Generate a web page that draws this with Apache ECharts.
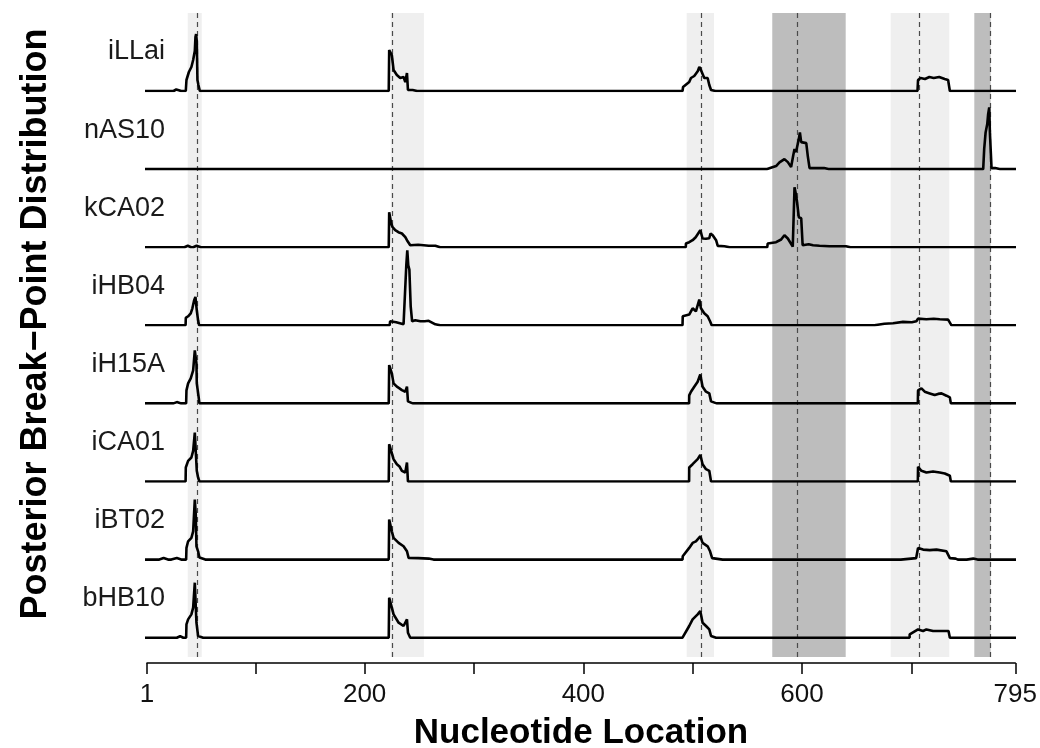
<!DOCTYPE html>
<html><head><meta charset="utf-8">
<script src="https://cdn.jsdelivr.net/npm/echarts@6/dist/echarts.min.js"></script>
<style>html,body{margin:0;padding:0;background:#fff}#c{width:1040px;height:748px}</style>
</head><body><div id="c"></div>
<script>
// ---------------- data ----------------
const trackNames = ['iLLai','nAS10','kCA02','iHB04','iH15A','iCA01','iBT02','bHB10'];

const iLLai = [[1,0],[27,0],[27.5,1.5],[29.5,1.5],[30,0],[34,0],[38.2,0],[38.8,11],[40.3,13],[41,19],[43.3,24],[44.9,31],[46.4,40],[47,54],[47.6,57],[48.2,50],[48.8,11],[49.7,6],[51,0],[54,0],[56.5,0],[57,1.5],[57.5,0],[61,0],
 [218,0],[218.5,1.5],[219.5,0],[223.2,0],[223.6,41],[224.5,40],[226,36],[227.6,21],[229.1,19],[230.6,16],[232.2,14],[233.7,13],[235.2,15],[236.7,14],[238.3,9],[239.8,18],[240.7,1],[245,1],[246,0],[249,0],[253,0],[253.5,1.5],[254,0],[258,0],
 [491,0],[491.5,4],[497.1,9],[498.7,13],[501.7,15],[503.2,16],[505,20],[506.3,24],[507.8,21],[509.3,17],[510.8,13],[512.4,14],[513.9,13],[515.4,6],[517,1],[521,0],[525,0],
 [594,0],[594.5,1],[596,0],[599,0],[615,0],[615.5,1.2],[617,0],[620,0],[632,0],[632.5,1],[634,0],[637,0],[648,0],[648.5,1.2],[651,0],[654,0],[668,0],[668.5,1.2],[671,0],[674,0],[688,0],[688.5,1],[690,0],[693,0],
 [705.2,0],[705.7,11],[708,13],[712,12],[716,14],[720,13],[725,14],[730,12],[733.1,11],[734.7,0],[738,0],[757,0],[757.5,1.2],[760,0],[763,0],[766,0],[766.5,1.2],[768,0],[771,0],[795,0]];

const nAS10 = [[1,0],[25,0],[25.5,1],[26,0],[29,0],[36,0],[36.5,1.5],[38,0],[41,0],
 [568.2,0],[568.7,2],[576.3,3],[579.4,6.7],[581,8],[583.9,10],[587,7],[590,2],[591.5,2],[592,14],[593.1,20],[594.5,17],[596.1,17],[597,30],[598,36.7],[599.2,27],[600.7,27],[603.8,26],[605.2,13],[606.8,1],[620,1],[621,0],[624,0],
 [632,0],[632.5,1],[634,0],[637,0],[652,0],[652.5,1],[655,0],[658,0],[668,0],[668.5,1],[671,0],[674,0],[690,0],[690.5,1],[692,0],[695,0],[718,0],[718.5,1],[720,0],[723,0],[738,0],[738.5,1],[740,0],[743,0],
 [765.1,0],[766,20],[767.3,36.7],[768.8,45],[769.6,55],[770.6,61.7],[771.2,36.7],[772.7,1],[776,1],[777,0],[780,0],[781,0],[781.5,1],[783,0],[786,0],[795,0]];

const kCA02 = [[1,0],[37,0],[37.5,1.5],[40,1.5],[40.5,0],[43,0],[45,0],[45.5,1.5],[48,1.5],[48.5,0],[52,0],
 [223.2,0],[223.6,35],[224.5,33],[225.4,24],[226.7,20],[229.1,17],[232,15],[235.2,13.7],[238.3,10],[239.8,7],[242.8,2],[250,2.5],[255,2],[259.6,1.5],[265.7,1.5],[266,0],[270,0],
 [494,0],[494.1,3.7],[497.1,5],[500.2,7],[503,10],[504.8,12],[507.2,17],[509.3,8.7],[512.4,8.5],[515.4,9],[516.5,13.7],[518.5,12],[521.6,7],[523.1,1.3],[529.2,1],[530,0],[534,0],
 [568.2,0],[568.7,3.7],[576.3,5],[580.9,7.7],[583.9,12],[587,8.7],[591.5,0.5],[592.5,0.5],[593.1,60],[594,55],[595.2,47],[597,30],[599.2,29],[600.5,2],[606,3],[610,2],[615.9,1.5],[625,1],[640,1],[641,0],[644,0],[660,0],[660.5,1.5],[661,0],[664,0],[795,0]];

const iHB04 = [[1,0],[38,0],[38.2,7.4],[40.3,9],[42.7,12],[44.2,17],[45.8,25],[47,28.4],[48.2,15],[49.4,5],[50.3,0],[54,0],
 [224,0],[224.5,4],[230,3],[236.7,1],[238.5,1],[239.2,60],[240.1,75],[241,60],[242,55.7],[243.2,19],[244.5,4],[247.4,5],[252,4],[256,4],[259.6,4.5],[261.1,3],[265.7,1],[266.5,0],[270,0],
 [491,0],[491.2,9],[497.1,10.7],[500.2,17],[503.2,14],[506.3,25.7],[507.8,17],[510.8,12],[513.9,9],[516.1,4],[517.6,0],[521,0],
 [666,0],[666.5,1],[675,1.5],[682.9,2],[692,3.4],[700,3],[704.2,4],[705.7,6.7],[713.3,6],[720,6.5],[725.5,6],[733.1,5.7],[736.2,0],[740,0],[795,0]];

const iH15A = [[1,0],[27,0],[27.5,1.3],[30,1.3],[30.5,0],[34,0],[38.5,0],[38.8,13],[40.3,20],[42.7,25],[44.9,33],[46.4,53],[47.3,55],[47.9,40],[48.2,20],[49.7,8],[50.6,0],[54,0],
 [223.2,0],[223.6,38.3],[226,30],[227.6,20],[230.6,16.7],[233,15],[235.2,13.3],[238.3,11.7],[239.8,16.7],[240.7,2],[241.9,0],[245,0],
 [497,0],[497.1,8],[498.7,11.7],[501.7,16.7],[504.8,21.7],[507.2,29],[509.3,16.7],[512.4,11.7],[515.4,10],[517,2],[518.5,0],[522,0],
 [705.5,0],[705.7,13],[708.8,15],[711.8,11.7],[716.4,10],[720.9,8.3],[724,9.5],[727.1,10],[731.6,7.7],[734.7,6],[735.6,0],[739,0],[795,0]];

const iCA01 = [[1,0],[38,0],[38.2,14],[40.3,20.7],[43.3,24],[44.9,30.7],[46.4,49],[47.3,50.7],[48.2,10.7],[49.4,4],[50.6,0],[54,0],
 [223.2,0],[223.6,37.3],[225.4,30.7],[227.6,22.3],[230.6,17.3],[233,15],[235.2,10.7],[238.3,9],[239.8,19],[240.7,0],[244,0],
 [497,0],[497.1,14],[500.2,17.3],[504.8,22.3],[507.2,26.7],[509.3,17.3],[512.4,12.3],[515.4,10.7],[517,0],[521,0],
 [705.5,0],[705.7,14.7],[708.8,10.7],[713.3,9],[719.4,10],[725.5,9],[730.1,8],[734.7,5.7],[735.6,0],[739,0],[795,0]];

const iBT02 = [[1,0],[14,0],[14.5,1.5],[18,1.5],[18.5,0],[22,0],[25,0],[25.5,1.5],[30,1.5],[30.5,0],[34,0],[38.5,0],[38.8,11.7],[40.3,18.3],[43.3,21.7],[44.9,28.3],[46.4,60],[47.3,45],[47.9,13.3],[49.4,8.3],[50.6,2],[52.4,0],[56,0],
 [223.2,0],[223.6,40],[226,28.3],[227.6,21.7],[232.2,16.7],[236.7,13.3],[239.8,8.3],[241.3,1.7],[250,1.5],[259.6,1],[260,0],[264,0],
 [491,0],[491.2,3.3],[497.1,11.7],[500.2,16.7],[503.2,18.3],[507.2,23.3],[509.3,16.7],[513.9,13.3],[516.1,8.3],[518,1.5],[527.6,0],[531,0],
 [603,0],[603.5,1.2],[606,0],[609,0],[618,0],[618.5,1.2],[622,0],[625,0],[640,0],[640.5,1],[642,0],[645,0],[654,0],[654.5,1.2],[658,0],[661,0],[668,0],[668.5,1.2],[672,0],[675,0],[680,0],[680.5,1.2],[684,0],[687,0],[690,0],[690.5,1.5],[704,1.5],
 [705.5,0],[705.7,11.7],[710.3,10],[716.4,9.5],[722.5,10],[731.6,8.3],[734.7,1.5],[740,1],[742,0],[745,0],[750,0],[750.5,1.5],[756,1],[757,0],[760,0],[795,0]];

const bHB10 = [[1,0],[30,0],[30.5,1.5],[33,1.5],[33.5,0],[36,0],[38.5,0],[38.8,13.3],[40.3,18.3],[43.3,23.3],[44.9,30],[46.4,55],[47.9,15],[49.4,1.7],[50.6,0],[54,0],
 [223.2,0],[223.6,40],[226,30],[227.6,23.3],[232.2,15],[236.7,11.7],[239.8,18.3],[240.7,5],[242.8,0],[246,0],
 [491,0],[491.2,1.7],[497.1,11.7],[500.2,18.3],[504.8,23.3],[507.2,26.7],[509.3,15],[512.4,11.7],[515.4,8.3],[517,1.7],[521.6,0],[525,0],
 [698,0],[698.1,3.3],[705.7,8.3],[710.3,6.7],[713.3,8.3],[719.4,6.7],[725.5,6.7],[733.5,6.7],[734.7,0],[738,0],[795,0]];

const trackData = [iLLai, nAS10, kCA02, iHB04, iH15A, iCA01, iBT02, bHB10];

const lightBands = [[38.2,51],[223.6,254],[494.1,519.1],[680.5,734]];
const darkBands = [[572.3,639.4],[756.9,771.8]];
const dashedAt = [47.3,225.1,507,594.8,706.3,771.2];
const tickValues = [1,100,200,300,400,500,600,700,795];
const tickLabels = [1,200,400,600,795];
const xTitle = 'Nucleotide Location';
const yTitle = 'Posterior Break\u2212Point Distribution';

// ---------------- layout ----------------
const LEFT = 147, RIGHT = 24, TRACK_H = 80, FIRST_BASE = 91, STEP = 78.1;
const FONT = '"Liberation Sans", Arial, Helvetica, sans-serif';

// grid 0: visible axis only; grid 1: shaded bands + dashed lines; grids 2..9: tracks
const grids = [
  {left: LEFT, right: RIGHT, top: 13, height: 650},
  {left: LEFT, right: RIGHT, top: 13, height: 644}
];
const xAxes = [{
  gridIndex: 0, type: 'value', min: 1, max: 795,
  axisLine: {show: true, lineStyle: {color: '#000', width: 1.5}},
  axisTick: {show: true, length: 11, customValues: tickValues, lineStyle: {color: '#000', width: 1.5}},
  axisLabel: {show: true, customValues: tickLabels, fontSize: 26, color: '#111', fontFamily: FONT, margin: 19},
  splitLine: {show: false}
}, {gridIndex: 1, type: 'value', min: 1, max: 795, show: false}];
const yAxes = [
  {gridIndex: 0, type: 'value', min: 0, max: 1, show: false},
  {gridIndex: 1, type: 'value', min: 0, max: 1, show: false}
];
const series = [{
  type: 'line', xAxisIndex: 0, yAxisIndex: 0, data: [[1,0],[795,0]],
  showSymbol: false, lineStyle: {opacity: 0}, silent: true, z: 0
}, {
  type: 'line', xAxisIndex: 1, yAxisIndex: 1, data: [[1,0],[795,0]],
  showSymbol: false, lineStyle: {opacity: 0}, silent: true, z: 1,
  markArea: {
    silent: true,
    data: lightBands.map(b => [{xAxis: b[0], itemStyle: {color: '#efefef'}}, {xAxis: b[1]}])
      .concat(darkBands.map(b => [{xAxis: b[0], itemStyle: {color: '#bdbdbd'}}, {xAxis: b[1]}]))
  },
  markLine: {
    silent: true, symbol: 'none', label: {show: false},
    lineStyle: {color: '#4a4a4a', width: 1.2, type: [5, 4]},
    data: dashedAt.map(v => ({xAxis: v}))
  }
}];
const graphics = [];

trackData.forEach((d, i) => {
  const base = FIRST_BASE + i * STEP;
  const gi = i + 2;
  grids.push({left: LEFT - 2, right: RIGHT, top: base - TRACK_H, height: TRACK_H});
  xAxes.push({gridIndex: gi, type: 'value', min: 1, max: 795, show: false});
  yAxes.push({gridIndex: gi, type: 'value', min: 0, max: TRACK_H, show: false});
  series.push({
    type: 'line', name: trackNames[i], xAxisIndex: gi, yAxisIndex: gi, data: d,
    showSymbol: false, silent: true, z: 5,
    lineStyle: {color: '#000', width: 2.6}
  });
  graphics.push({
    type: 'text', x: 165, y: base - 39,
    style: {text: trackNames[i], fill: '#1a1a1a', font: '27px ' + FONT, textAlign: 'right', textVerticalAlign: 'middle'}
  });
});

graphics.push({
  type: 'text', x: 581, y: 733,
  style: {text: xTitle, fill: '#000', font: 'bold 35px ' + FONT, textAlign: 'center', textVerticalAlign: 'middle'}
});
graphics.push({
  type: 'text', x: 36, y: 324, rotation: Math.PI / 2,
  style: {text: yTitle, fill: '#000', font: 'bold 36px ' + FONT, textAlign: 'center', textVerticalAlign: 'middle'}
});

const chart = echarts.init(document.getElementById('c'), null, {renderer: 'canvas'});
chart.setOption({
  animation: false,
  backgroundColor: '#fff',
  grid: grids, xAxis: xAxes, yAxis: yAxes, series: series,
  graphic: graphics
});
</script></body></html>
